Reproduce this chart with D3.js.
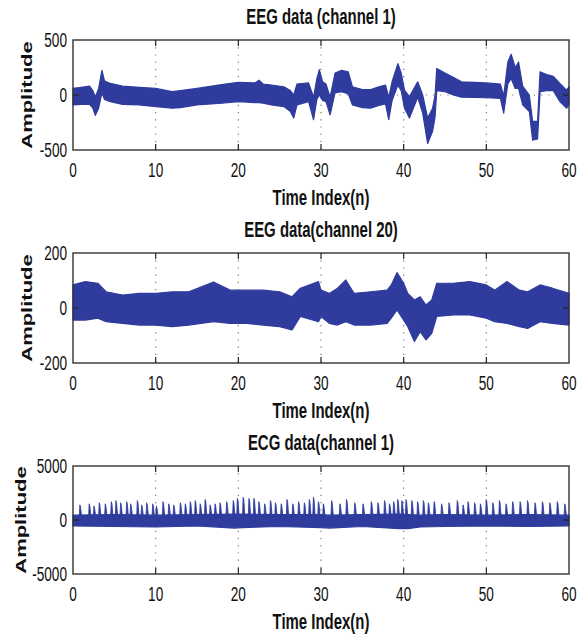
<!DOCTYPE html>
<html>
<head>
<meta charset="utf-8">
<script src="https://cdn.jsdelivr.net/npm/d3@7"></script>
<style>
  body { margin: 0; background: #fff; }
  text { font-family: "Liberation Sans", Arial, sans-serif; fill: #111; }
</style>
</head>
<body>
<div id="chart"></div>
<script>
// values (upper / lower envelope of the dense traces)
var timeTicks = [0, 10, 20, 30, 40, 50, 60];

var eeg1Ticks = [-500, 0, 500];
var eeg1Time = [0, 1, 2, 2.4, 2.7, 3.1, 3.5, 3.8, 4.5, 6, 8, 10, 12, 13, 15, 18, 20, 22, 22.5, 23, 24, 25.5,
  26.3, 26.7, 27.1, 28.5, 29.1, 29.5, 29.8, 30.2, 30.6, 31.1, 31.7, 32.5, 33.3, 33.8, 35, 36, 37, 37.8, 38.2,
  38.6, 39.3, 39.7, 40.1, 40.7, 41.7, 42.3, 42.9, 43.5, 43.8, 44, 45, 46, 47, 50, 51.7, 52.1, 52.6, 53, 53.5,
  53.9, 54.4, 55.2, 55.6, 56.2, 56.5, 57.3, 58.1, 58.9, 59.7, 60];
var eeg1Low = [-90, -85, -85, -120, -185, -120, 20, -40, -60, -85, -90, -105, -120, -115, -90, -75, -60, -70, -70, -75, -90, -105,
  -150, -210, -90, -60, -225, -40, 0, -50, -60, -180, 20, 30, 10, -90, -115, -120, -95, -80, -225,
  -50, 90, 40, -120, -210, -20, -165, -440, -330, -200, 40, 30, 0, -20, -25, -30, -165, 100, 150, 60,
  60, -90, -150, -410, -400, 30, 40, 40, -60, -120, -90];
var eeg1High = [60, 70, 80, 40, -20, 60, 225, 130, 105, 80, 70, 60, 30, 40, 60, 95, 115, 110, 135, 100, 90, 75,
  40, 0, 100, 110, -20, 150, 230, 120, 100, -20, 200, 225, 210, 75, 50, 50, 75, 90, -20,
  120, 285, 200, 45, -15, 120, 0, -210, -120, 0, 240, 200, 160, 120, 110, 100, -10, 300, 370, 250,
  300, 80, 0, -240, -240, 210, 185, 170, 105, 45, 75];

var eeg20Ticks = [-200, 0, 200];
var eeg20Time = [0, 1.5, 3, 4, 6, 8, 10, 12, 14, 17, 19, 21, 23, 25, 26.5, 27.5, 29.7, 30, 31, 32, 33, 34, 36,
  38, 38.5, 39.2, 40, 40.5, 41.3, 42, 42.7, 43.4, 44, 46, 48, 50, 51, 52.5, 54, 55, 56.5, 58, 60];
var eeg20Low = [-44, -44, -37, -50, -56, -62, -62, -68, -62, -50, -56, -56, -62, -68, -80, -31, -50, -31, -56, -62, -50, -62, -62,
  -56, -37, -7, -44, -68, -122, -86, -116, -92, -31, -25, -25, -37, -50, -56, -68, -74, -50, -56, -62];
var eeg20High = [84, 96, 90, 59, 47, 53, 53, 59, 59, 94, 65, 65, 65, 59, 41, 72, 96, 65, 53, 72, 102, 53, 59,
  65, 84, 129, 90, 53, 29, 41, 11, 29, 90, 90, 96, 84, 65, 96, 65, 59, 84, 72, 53];

var ecgTicks = [-5000, 0, 5000];
var ecgTime = [0, 5, 10, 15, 19.5, 20.5, 25, 30, 31, 35, 39.5, 40.5, 42, 45, 50, 55, 60];
var ecgLow = [-550, -600, -650, -550, -750, -700, -600, -700, -750, -600, -800, -800, -650, -600, -550, -600, -550];
var ecgHigh = [450, 500, 450, 500, 550, 550, 500, 500, 450, 500, 550, 500, 450, 500, 450, 500, 450];
var ecgBeatTime = [0.85, 1.98, 2.55, 3.19, 3.92, 4.65, 5.21, 5.78, 6.51, 6.99, 7.8, 8.32, 8.93, 9.66, 10.1,
  10.9, 11.6, 12.2, 13.0, 13.6, 14.2, 14.8, 15.4, 16.0, 16.6, 17.2, 17.8, 18.6, 19.4, 19.9,
  20.6, 21.3, 21.9, 22.5, 23.2, 23.9, 24.5, 25.2, 25.9, 26.6, 27.3, 28.0, 28.6, 29.1, 29.7,
  30.3, 31.3, 32.3, 33.1, 34.1, 35.1, 36.1, 36.9, 37.7, 38.3, 38.8, 39.3, 39.8,
  40.3, 41.0, 41.7, 42.4, 43.0, 43.7, 44.6, 45.5, 46.5, 47.2, 47.8, 48.6, 49.3, 50.0, 50.8,
  51.6, 52.4, 53.2, 54.1, 55.0, 55.9, 56.8, 57.7, 58.6, 59.5];
var ecgBeatPeak = [1400, 1500, 1300, 1600, 1500, 1700, 1800, 1600, 1700, 1500, 1800, 1400, 1600, 1500, 1300,
  1700, 1500, 1400, 1600, 1500, 1700, 1800, 1500, 1900, 1400, 1500, 1600, 1700, 1800, 2000,
  2100, 2000, 2000, 1700, 1500, 1800, 1600, 1500, 1900, 1500, 1700, 1600, 1900, 2100, 1700,
  1500, 1800, 1500, 1900, 1600, 1500, 1700, 1600, 1800, 1500, 1700, 1900, 1800,
  1900, 1800, 1700, 1800, 1600, 1700, 1500, 1600, 1800, 1400, 1700, 1600, 1500, 1900, 1600,
  1800, 1500, 1700, 1700, 1800, 1600, 1700, 1600, 1700, 1500];

var width = 582, height = 636;
var left = 73, right = 569;
var blue = "#2f3c9e";

var panels = [
  {title: "EEG data (channel 1)", top: 40, bottom: 150, ticks: eeg1Ticks, t: eeg1Time, lo: eeg1Low, hi: eeg1High, ylabX: 25},
  {title: "EEG data(channel 20)", top: 253, bottom: 363, ticks: eeg20Ticks, t: eeg20Time, lo: eeg20Low, hi: eeg20High, ylabX: 25},
  {title: "ECG data(channel 1)", top: 466, bottom: 574, ticks: ecgTicks, t: ecgTime, lo: ecgLow, hi: ecgHigh, ylabX: 19, beats: true}
];

var svg = d3.select("#chart").append("svg")
  .attr("width", width)
  .attr("height", height);

var x = d3.scaleLinear().domain([0, 60]).range([left, right]);

// squeezed text like the scaled matlab figure
function txt(g, px, py, s, size, bold, anchor, rot) {
  var tr = "translate(" + px + "," + py + ") scale(0.68,1)";
  if (rot) tr = "translate(" + px + "," + py + ") rotate(-90) scale(1,0.68)";
  return g.append("text")
    .attr("transform", tr)
    .attr("text-anchor", anchor)
    .attr("font-size", size)
    .attr("font-weight", bold ? "bold" : "normal")
    .text(s);
}

panels.forEach(function (p) {
  var y = d3.scaleLinear().domain([p.ticks[0], p.ticks[2]]).range([p.bottom, p.top]);
  var g = svg.append("g");

  // dotted grid
  g.selectAll(".gx").data(timeTicks.slice(1, -1)).enter().append("line")
    .attr("x1", function (d) { return x(d); }).attr("x2", function (d) { return x(d); })
    .attr("y1", p.top).attr("y2", p.bottom)
    .attr("stroke", "#777").attr("stroke-width", 1.2).attr("stroke-dasharray", "1.2,6");
  g.append("line")
    .attr("x1", left).attr("x2", right)
    .attr("y1", y(0)).attr("y2", y(0))
    .attr("stroke", "#777").attr("stroke-width", 1.2).attr("stroke-dasharray", "1.2,6");

  // signal band
  var area = d3.area()
    .x(function (d, i) { return x(p.t[i]); })
    .y0(function (d, i) { return y(p.lo[i]); })
    .y1(function (d, i) { return y(p.hi[i]); });
  g.append("path")
    .datum(p.t)
    .attr("d", area)
    .attr("fill", blue)
    .attr("stroke", blue)
    .attr("stroke-width", 1.2)
    .attr("stroke-linejoin", "round");

  if (p.beats) {
    g.selectAll(".beat").data(ecgBeatTime).enter().append("path")
      .attr("d", function (d, i) {
        return "M" + x(d - 0.1) + "," + y(300) + "L" + x(d - 0.02) + "," + y(ecgBeatPeak[i]) +
          "L" + x(d + 0.06) + "," + y(ecgBeatPeak[i] - 200) + "L" + x(d + 0.2) + "," + y(300) + "Z";
      })
      .attr("fill", blue)
      .attr("stroke", blue)
      .attr("stroke-width", 0.8);
  }

  // inward ticks
  var tk = 6;
  timeTicks.slice(1, -1).forEach(function (d) {
    g.append("line").attr("x1", x(d)).attr("x2", x(d)).attr("y1", p.bottom).attr("y2", p.bottom - tk)
      .attr("stroke", "#222").attr("stroke-width", 1.2);
    g.append("line").attr("x1", x(d)).attr("x2", x(d)).attr("y1", p.top).attr("y2", p.top + tk)
      .attr("stroke", "#222").attr("stroke-width", 1.2);
  });
  g.append("line").attr("x1", left).attr("x2", left + tk).attr("y1", y(0)).attr("y2", y(0))
    .attr("stroke", "#222").attr("stroke-width", 1.2);
  g.append("line").attr("x1", right).attr("x2", right - tk).attr("y1", y(0)).attr("y2", y(0))
    .attr("stroke", "#222").attr("stroke-width", 1.2);

  // box
  g.append("rect")
    .attr("x", left).attr("y", p.top)
    .attr("width", right - left).attr("height", p.bottom - p.top)
    .attr("fill", "none").attr("stroke", "#333").attr("stroke-width", 1.4);

  // tick labels
  timeTicks.forEach(function (d) {
    txt(g, x(d), p.bottom + 26.5, d, 20, false, "middle");
  });
  p.ticks.forEach(function (d) {
    txt(g, 67, y(d) + 7, d, 20, false, "end");
  });

  txt(g, (left + right) / 2, p.top - 16, p.title, 22, true, "middle");
  txt(g, (left + right) / 2, p.bottom + 55, "Time Index(n)", 22, true, "middle");
  txt(g, p.ylabX + 7, (p.top + p.bottom) / 2, "Amplitude", 22, true, "middle", true);
});
</script>
</body>
</html>
